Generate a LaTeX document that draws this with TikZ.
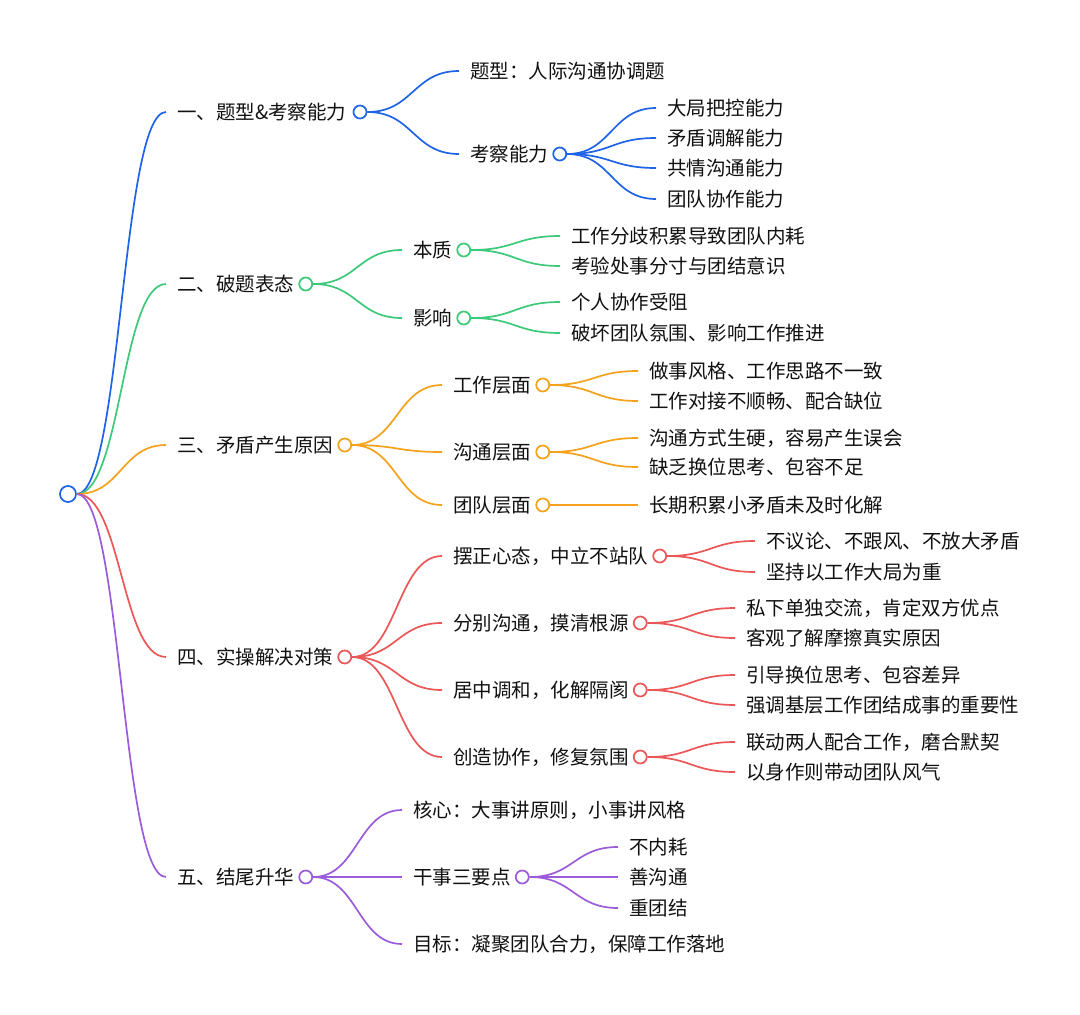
\documentclass[tikz,border=0pt]{standalone}
\usepackage{fontspec}
\newfontfamily\cjk{Noto Sans CJK SC}
\usetikzlibrary{calc,positioning}
\definecolor{cb}{HTML}{1F64E6}
\definecolor{cg}{HTML}{3DC97A}
\definecolor{co}{HTML}{F4A21C}
\definecolor{cr}{HTML}{EB5757}
\definecolor{cp}{HTML}{9B5CDB}
\definecolor{tx}{HTML}{111111}
\tikzset{
  lbl/.style={anchor=west, inner xsep=11pt, inner ysep=0pt, text height=16pt, text depth=1.2pt,
    font=\cjk\fontsize{19.5}{22}\selectfont, text=tx},
  dot/.style={circle, draw=#1, line width=1.7pt, fill=white, minimum size=13pt, inner sep=0pt},
  link/.style={line width=1.7pt, draw=#1}
}
\newcommand\mmlink[3]{\draw[link=#1] let \p1=(#2), \p2=(#3) in (\p1) .. controls ({(\x1+\x2)/2},\y1) and ({(\x1+\x2)/2},\y2) .. (\p2);}
\begin{document}
\begin{tikzpicture}[x=1pt,y=-1pt]
\fill[white] (0,0) rectangle (1080,1015);
\useasboundingbox (0,0) rectangle (1080,1015);

% root
\node[dot=cb, minimum size=16pt] (root) at (68,494) {};

% level 1
\node[lbl] (a1) at (166,112) {一、题型\&考察能力};
\node[lbl] (a2) at (166,284) {二、破题表态};
\node[lbl] (a3) at (166,445) {三、矛盾产生原因};
\node[lbl] (a4) at (166,657) {四、实操解决对策};
\node[lbl] (a5) at (166,877) {五、结尾升华};

% branch 1
\node[lbl] (b11) at (459,71) {题型：人际沟通协调题};
\node[lbl] (b12) at (459,154) {考察能力};
\node[lbl] (c121) at (656,108) {大局把控能力};
\node[lbl] (c122) at (656,138) {矛盾调解能力};
\node[lbl] (c123) at (656,168) {共情沟通能力};
\node[lbl] (c124) at (656,199) {团队协作能力};

% branch 2
\node[lbl] (b21) at (402,250) {本质};
\node[lbl] (b22) at (402,318) {影响};
\node[lbl] (c211) at (560,236) {工作分歧积累导致团队内耗};
\node[lbl] (c212) at (560,266) {考验处事分寸与团结意识};
\node[lbl] (c221) at (560,302) {个人协作受阻};
\node[lbl] (c222) at (560,333) {破坏团队氛围、影响工作推进};

% branch 3
\node[lbl] (b31) at (442,385) {工作层面};
\node[lbl] (b32) at (442,452) {沟通层面};
\node[lbl] (b33) at (442,505) {团队层面};
\node[lbl] (c311) at (638,371) {做事风格、工作思路不一致};
\node[lbl] (c312) at (638,401) {工作对接不顺畅、配合缺位};
\node[lbl] (c321) at (638,438) {沟通方式生硬，容易产生误会};
\node[lbl] (c322) at (638,467) {缺乏换位思考、包容不足};
\node[lbl] (c331) at (638,505) {长期积累小矛盾未及时化解};

% branch 4
\node[lbl] (b41) at (442,556) {摆正心态，中立不站队};
\node[lbl] (b42) at (442,623) {分别沟通，摸清根源};
\node[lbl] (b43) at (442,690) {居中调和，化解隔阂};
\node[lbl] (b44) at (442,757) {创造协作，修复氛围};
\node[lbl] (c411) at (755,541) {不议论、不跟风、不放大矛盾};
\node[lbl] (c412) at (755,572) {坚持以工作大局为重};
\node[lbl] (c421) at (735,608) {私下单独交流，肯定双方优点};
\node[lbl] (c422) at (735,638) {客观了解摩擦真实原因};
\node[lbl] (c431) at (735,675) {引导换位思考、包容差异};
\node[lbl] (c432) at (735,705) {强调基层工作团结成事的重要性};
\node[lbl] (c441) at (735,742) {联动两人配合工作，磨合默契};
\node[lbl] (c442) at (735,772) {以身作则带动团队风气};

% branch 5
\node[lbl] (b51) at (402,810) {核心：大事讲原则，小事讲风格};
\node[lbl] (b52) at (402,877) {干事三要点};
\node[lbl] (b53) at (402,944) {目标：凝聚团队合力，保障工作落地};
\node[lbl] (c521) at (618,847) {不内耗};
\node[lbl] (c522) at (618,877) {善沟通};
\node[lbl] (c523) at (618,908) {重团结};

% circles after labels
\node[dot=cb, right=-5pt of a1] (a1c) {};
\node[dot=cg, right=-7pt of a2] (a2c) {};
\node[dot=co, right=-7pt of a3] (a3c) {};
\node[dot=cr, right=-7pt of a4] (a4c) {};
\node[dot=cp, right=-7pt of a5] (a5c) {};
\node[dot=cb, right=-7pt of b12] (b12c) {};
\node[dot=cg, right=-7pt of b21] (b21c) {};
\node[dot=cg, right=-7pt of b22] (b22c) {};
\node[dot=co, right=-7pt of b31] (b31c) {};
\node[dot=co, right=-7pt of b32] (b32c) {};
\node[dot=co, right=-7pt of b33] (b33c) {};
\node[dot=cr, right=-7pt of b41] (b41c) {};
\node[dot=cr, right=-7pt of b42] (b42c) {};
\node[dot=cr, right=-7pt of b43] (b43c) {};
\node[dot=cr, right=-7pt of b44] (b44c) {};
\node[dot=cp, right=-7pt of b52] (b52c) {};

% connectors
\mmlink{cb}{root.east}{a1.west}
\mmlink{cg}{root.east}{a2.west}
\mmlink{co}{root.east}{a3.west}
\mmlink{cr}{root.east}{a4.west}
\mmlink{cp}{root.east}{a5.west}

\mmlink{cb}{a1c.east}{b11.west}
\mmlink{cb}{a1c.east}{b12.west}
\mmlink{cb}{b12c.east}{c121.west}
\mmlink{cb}{b12c.east}{c122.west}
\mmlink{cb}{b12c.east}{c123.west}
\mmlink{cb}{b12c.east}{c124.west}

\mmlink{cg}{a2c.east}{b21.west}
\mmlink{cg}{a2c.east}{b22.west}
\mmlink{cg}{b21c.east}{c211.west}
\mmlink{cg}{b21c.east}{c212.west}
\mmlink{cg}{b22c.east}{c221.west}
\mmlink{cg}{b22c.east}{c222.west}

\mmlink{co}{a3c.east}{b31.west}
\mmlink{co}{a3c.east}{b32.west}
\mmlink{co}{a3c.east}{b33.west}
\mmlink{co}{b31c.east}{c311.west}
\mmlink{co}{b31c.east}{c312.west}
\mmlink{co}{b32c.east}{c321.west}
\mmlink{co}{b32c.east}{c322.west}
\mmlink{co}{b33c.east}{c331.west}

\mmlink{cr}{a4c.east}{b41.west}
\mmlink{cr}{a4c.east}{b42.west}
\mmlink{cr}{a4c.east}{b43.west}
\mmlink{cr}{a4c.east}{b44.west}
\mmlink{cr}{b41c.east}{c411.west}
\mmlink{cr}{b41c.east}{c412.west}
\mmlink{cr}{b42c.east}{c421.west}
\mmlink{cr}{b42c.east}{c422.west}
\mmlink{cr}{b43c.east}{c431.west}
\mmlink{cr}{b43c.east}{c432.west}
\mmlink{cr}{b44c.east}{c441.west}
\mmlink{cr}{b44c.east}{c442.west}

\mmlink{cp}{a5c.east}{b51.west}
\mmlink{cp}{a5c.east}{b52.west}
\mmlink{cp}{a5c.east}{b53.west}
\mmlink{cp}{b52c.east}{c521.west}
\mmlink{cp}{b52c.east}{c522.west}
\mmlink{cp}{b52c.east}{c523.west}
\end{tikzpicture}
\end{document}
